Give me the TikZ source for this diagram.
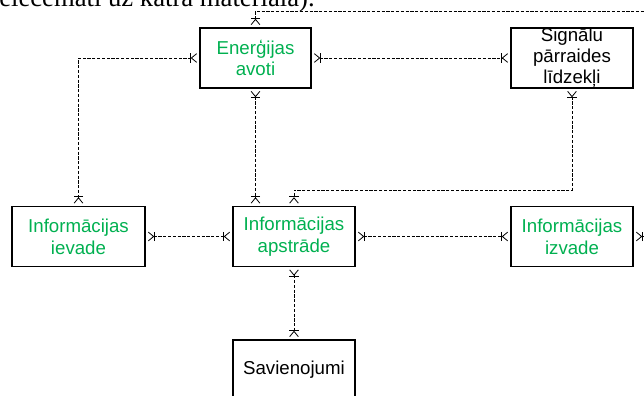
\documentclass[tikz,border=0pt]{standalone}
\usepackage{fontspec}
\setmainfont{Liberation Sans}
\newfontfamily\serifpart{Liberation Serif}
\usetikzlibrary{arrows.meta}

\definecolor{infogreen}{RGB}{0,176,80}

\tikzset{
  block/.style={draw, line width=0.8pt, inner sep=0pt, minimum height=45pt, align=center,
    font=\fontsize{14}{16.3}\selectfont},
  foot/.tip={Straight Barb[reversed,length=4pt,width=6.5pt,line width=0.6pt,sep=1.8pt]},
  onebar/.tip={Bar[width=7pt,line width=0.6pt]},
  link/.style={line width=0.65pt, dash pattern=on 2.4pt off 1.2pt, {foot[]onebar[]}-{onebar[]foot[]}},
  tail/.style={line width=0.65pt, dash pattern=on 2.4pt off 1.2pt, {foot[]onebar[]}-}
}

\begin{document}
\begin{tikzpicture}[x=0.75pt,y=0.75pt,yscale=-1,xscale=1]
\useasboundingbox (0,0) rectangle (644,396);

% Text Node (cut off above)
\node[anchor=base west, inner sep=0pt, font=\serifpart\fontsize{20}{22}\selectfont] (captext) at (-1,6.5) {elecemati uz katra materiāla).};

% Boxes
\node[block, minimum width=83.25pt, text=infogreen] (energ) at (255.5,58) {Enerģijas\\avoti};
\node[block, minimum width=91.5pt, font=\fontsize{14}{15.75}\selectfont] (signal) at (572,58) {Signālu\\pārraides\\līdzekļi};
\node[block, minimum width=99.75pt, text=infogreen] (ievade) at (78.5,236.5) {Informācijas\\ievade};
\node[block, minimum width=91.5pt, text=infogreen] (apstr) at (294,236.5) {Informācijas\\apstrāde};
\node[block, minimum width=91.5pt, text=infogreen] (izvade) at (572,236.5) {Informācijas\\izvade};
\node[block, minimum width=91.5pt] (savien) at (294,370) {Savienojumi};

\coordinate (bend) at (0,190);
\coordinate (topout) at (660,11);
\coordinate (rightout) at (660,236.5);

% Connectors
\draw[link] (energ.west) -| (ievade.north);
\draw[link] (energ.east) -- (signal.west);
\draw[link] (energ.south) -- (energ.south |- apstr.north);
\draw[link] (signal.south) -- (signal.south |- bend) -| (apstr.north);
\draw[tail] (energ.north) |- (topout);
\draw[link] (ievade.east) -- (apstr.west);
\draw[link] (apstr.east) -- (izvade.west);
\draw[tail] (izvade.east) -- (rightout);
\draw[link] (apstr.south) -- (savien.north);

\end{tikzpicture}
\end{document}
